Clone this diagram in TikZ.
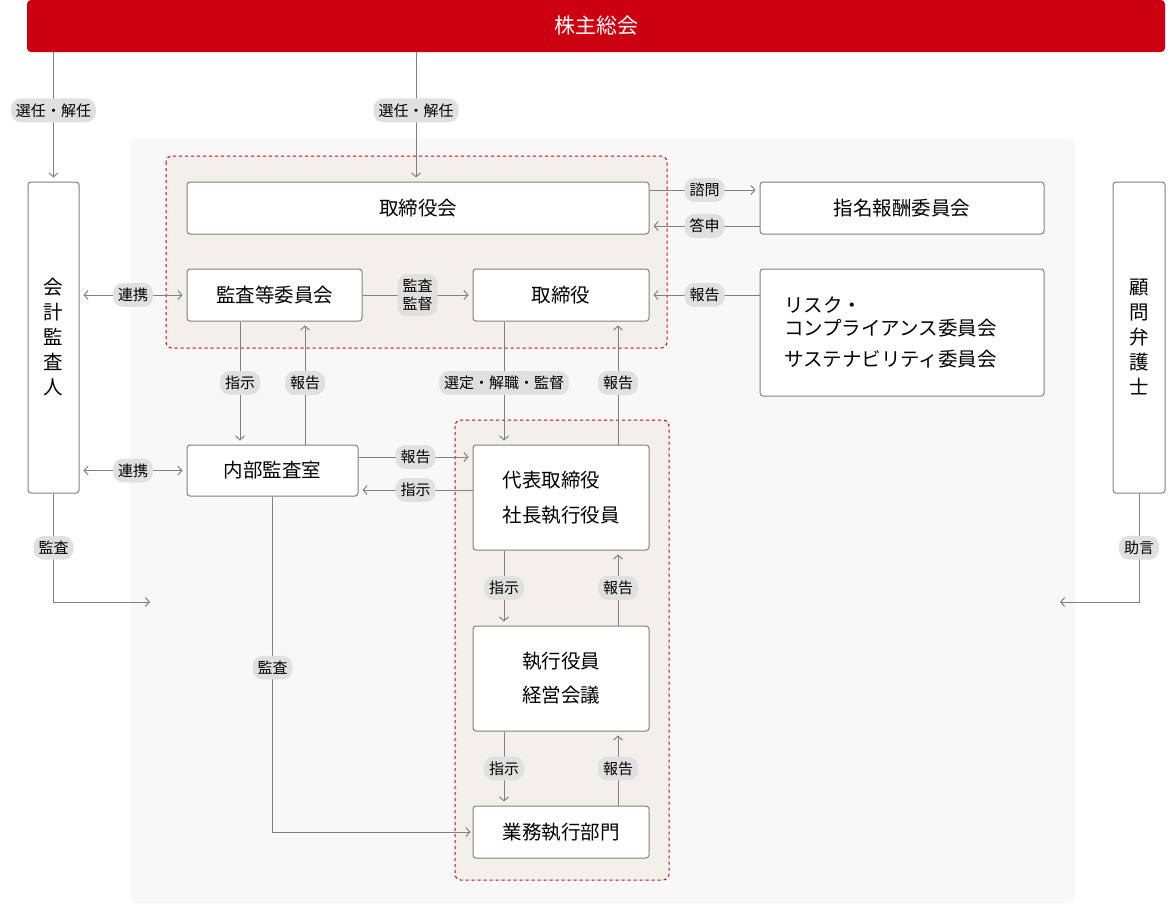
\documentclass[tikz,border=0pt]{standalone}
\usepackage{fontspec}
\setmainfont{Noto Sans CJK JP}
\usetikzlibrary{positioning, arrows.meta}
\definecolor{hqred}{HTML}{CC0011}
\definecolor{linegray}{HTML}{808080}
\definecolor{lblgray}{HTML}{E0E0E0}
\definecolor{panelgray}{HTML}{F8F8F8}
\definecolor{zonetan}{HTML}{F3EFEB}
\tikzset{
    box/.style={draw=linegray, line width=1pt, fill=white, rounded corners=3pt, inner sep=0pt, font=\fontsize{19.5}{23}\selectfont},
    lbl/.style={fill=lblgray, rounded corners=10pt, inner sep=5pt, font=\fontsize{15}{17}\selectfont, align=center},
    conn/.style={draw=linegray, line width=1pt, -{Straight Barb[length=4pt,width=9pt]}, shorten >=4pt},
    zone/.style={draw=hqred, dashed, line width=1pt, fill=zonetan, rounded corners=6pt},
}
\begin{document}
\begin{tikzpicture}[x=1pt, y=-1pt]
    \useasboundingbox (0,0) rectangle (1174,905);
    % background
    \fill[panelgray, rounded corners=8pt] (130,138) rectangle (1075,903);
    \draw[zone] (166,156) rectangle (667,348);
    \draw[zone] (455,420) rectangle (669,880);
    % nodes
    \node[fill=hqred, rounded corners=4pt, minimum width=1138pt, minimum height=52pt, text=white, font=\fontsize{21}{24}\selectfont] (meeting) at (596,26) {株主総会};
    \node[box, minimum width=462pt, minimum height=52pt] (board) at (418,208) {取締役会};
    \node[box, minimum width=284pt, minimum height=52pt] (nomination) at (902,208) {指名報酬委員会};
    \node[box, minimum width=175pt, minimum height=52pt] (auditcom) at (274.5,295) {監査等委員会};
    \node[box, minimum width=176pt, minimum height=52pt] (director) at (561,295) {取締役};
    \node[box, minimum width=284pt, minimum height=127pt, text width=236pt, align=left] (risk) at (902,332.5) {リスク・\\コンプライアンス委員会\\[8pt]サステナビリティ委員会};
    \node[box, minimum width=51pt, minimum height=311pt, align=center, font=\fontsize{19.5}{25}\selectfont] (accountant) at (53.5,337.5) {会\\計\\監\\査\\人};
    \node[box, minimum width=52pt, minimum height=311pt, align=center, font=\fontsize{19.5}{25}\selectfont] (lawyer) at (1139,337.5) {顧\\問\\弁\\護\\士};
    \node[box, minimum width=171pt, minimum height=51pt] (internal) at (272.5,470.5) {内部監査室};
    \node[box, minimum width=176pt, minimum height=105pt, align=left, font=\fontsize{19.5}{35}\selectfont] (ceo) at (561,497.5) {代表取締役\\社長執行役員};
    \node[box, minimum width=176pt, minimum height=105pt, align=center, font=\fontsize{19.5}{34}\selectfont] (execboard) at (561,678.5) {執行役員\\経営会議};
    \node[box, minimum width=176pt, minimum height=52pt] (operations) at (561,832) {業務執行部門};
    \coordinate (auditend) at (150,602);
    \coordinate (adviceend) at (1060,602);
    % connectors
    \draw[conn] (accountant.north |- meeting.south) -- node[lbl, pos=0.45] {選任・解任} (accountant.north);
    \draw[conn] ([xshift=-2pt]board.north |- meeting.south) -- node[lbl, pos=0.45] {選任・解任} ([xshift=-2pt]board.north);
    \draw[conn] ([yshift=18pt]board.east) -- node[lbl] {諮問} ([yshift=18pt]nomination.west);
    \draw[conn] ([yshift=-18pt]nomination.west) -- node[lbl] {答申} ([yshift=-18pt]board.east);
    \draw[conn, {Straight Barb[length=4pt,width=9pt]}-{Straight Barb[length=4pt,width=9pt]}, shorten <=4pt] (accountant.east |- auditcom.west) -- node[lbl] {連携} (auditcom.west);
    \draw[conn, {Straight Barb[length=4pt,width=9pt]}-{Straight Barb[length=4pt,width=9pt]}, shorten <=4pt] (accountant.east |- internal.west) -- node[lbl] {連携} (internal.west);
    \draw[conn] (auditcom.east) -- node[lbl, font=\fontsize{15}{18}\selectfont] {監査\\監督} (director.west);
    \draw[conn] (risk.west |- director.east) -- node[lbl] {報告} (director.east);
    \draw[conn] ([xshift=-34.5pt]auditcom.south) -- node[lbl] {指示} ([xshift=-32.5pt]internal.north);
    \draw[conn] ([xshift=32.5pt]internal.north) -- node[lbl] {報告} ([xshift=30.5pt]auditcom.south);
    \draw[conn] ([xshift=-57pt]director.south) -- node[lbl] {選定・解職・監督} ([xshift=-57pt]ceo.north);
    \draw[conn] ([xshift=57pt]ceo.north) -- node[lbl] {報告} ([xshift=57pt]director.south);
    \draw[conn] ([yshift=13.5pt]internal.east) -- node[lbl] {報告} ([yshift=40.5pt]ceo.west);
    \draw[conn] ([yshift=7.5pt]ceo.west) -- node[lbl] {指示} ([yshift=-19.5pt]internal.east);
    \draw[conn] ([xshift=-57pt]ceo.south) -- node[lbl] {指示} ([xshift=-57pt]execboard.north);
    \draw[conn] ([xshift=57pt]execboard.north) -- node[lbl] {報告} ([xshift=57pt]ceo.south);
    \draw[conn] ([xshift=-57pt]execboard.south) -- node[lbl] {指示} ([xshift=-57pt]operations.north);
    \draw[conn] ([xshift=57pt]operations.north) -- node[lbl] {報告} ([xshift=57pt]execboard.south);
    \draw[conn, shorten >=2pt] (internal.south) |- node[lbl, pos=0.255] {監査} (operations.west);
    \draw[conn, shorten >=0pt] (accountant.south) |- node[lbl, pos=0.25] {監査} (auditend);
    \draw[conn, shorten >=0pt] (lawyer.south) |- node[lbl, pos=0.25] {助言} (adviceend);
\end{tikzpicture}
\end{document}
